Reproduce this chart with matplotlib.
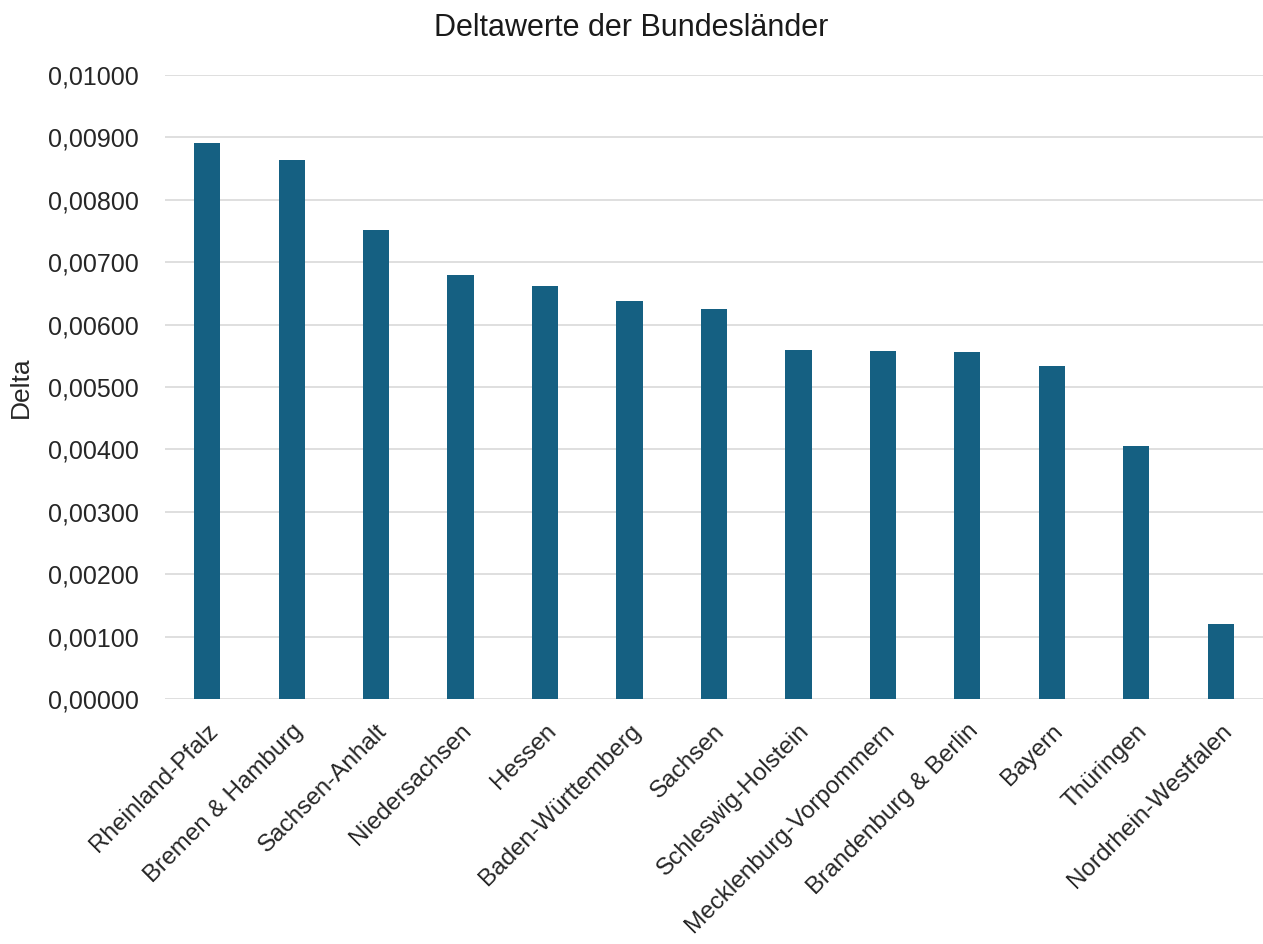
import matplotlib.pyplot as plt
from matplotlib.ticker import FuncFormatter

plt.rcParams['font.family'] = ['Liberation Sans', 'DejaVu Sans']

# Daten
laender = ['Rheinland-Pfalz', 'Bremen & Hamburg', 'Sachsen-Anhalt', 'Niedersachsen',
           'Hessen', 'Baden-Württemberg', 'Sachsen', 'Schleswig-Holstein',
           'Mecklenburg-Vorpommern', 'Brandenburg & Berlin', 'Bayern', 'Thüringen',
           'Nordrhein-Westfalen']
delta = [0.00891, 0.00863, 0.00751, 0.00679, 0.00662, 0.00637, 0.00625,
         0.00560, 0.00558, 0.00556, 0.00534, 0.00405, 0.00120]
y_ticks = [0.000, 0.001, 0.002, 0.003, 0.004, 0.005, 0.006, 0.007, 0.008, 0.009, 0.010]

fig = plt.figure(figsize=(12.63, 9.44), dpi=100)
ax = fig.add_axes([0.1306, 0.2595, 0.8694, 0.6611])

ax.bar(range(len(laender)), delta, width=0.31, color='#156082', zorder=3)

ax.set_xlim(-0.5, len(laender) - 0.5)
ax.set_ylim(0, 0.01)
ax.set_yticks(y_ticks)
ax.yaxis.set_major_formatter(FuncFormatter(lambda v, p: f'{v:.5f}'.replace('.', ',')))
ax.grid(axis='y', color='#D9D9D9', linewidth=1.2, zorder=0)

for s in ax.spines.values():
    s.set_visible(False)
ax.tick_params(axis='both', length=0, labelsize=18, colors='#262626')
ax.tick_params(axis='y', pad=19)

ax.set_xticks(range(len(laender)))
ax.set_xticklabels(laender, rotation=45, ha='right', rotation_mode='anchor')
ax.tick_params(axis='x', pad=15, labelsize=17.5)

ax.set_ylabel('Delta', fontsize=19, color='#262626', labelpad=11)
fig.text(0.5, 0.970, 'Deltawerte der Bundesländer', ha='center', va='center',
         fontsize=22, color='#1a1a1a')

fig.savefig('out.png', dpi=100)
